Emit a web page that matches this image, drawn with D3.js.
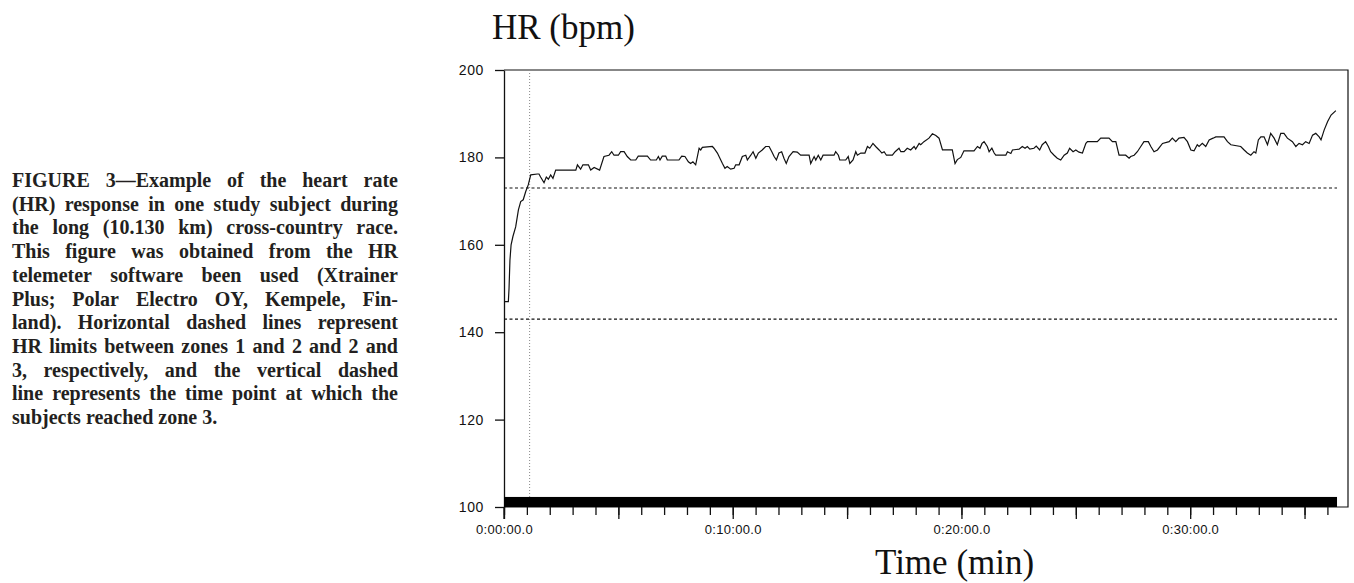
<!DOCTYPE html>
<html>
<head>
<meta charset="utf-8">
<script src="https://cdn.jsdelivr.net/npm/d3@7"></script>
<style>
  body { margin: 0; background: #fff; }
  svg { display: block; }
  .caption { font-family: "Liberation Serif", "Times New Roman", serif; font-weight: bold; font-size: 20px; fill: #231f20; }
  .axis-title { font-family: "Liberation Serif", "Times New Roman", serif; font-size: 35px; fill: #111; }
  .tick text { font-family: "Liberation Sans", Arial, sans-serif; fill: #111; }
</style>
</head>
<body>
<script>
// heart rate trace, time in minutes / bpm
var timeMin = [0.00,0.19,0.22,0.26,0.31,0.39,0.51,0.63,0.73,0.84,0.95,1.06,1.17,1.46,1.53,1.60,1.75,1.85,1.94,2.04,2.14,2.26,
  3.14,3.21,3.35,3.45,3.69,3.79,3.94,4.18,4.37,4.59,4.71,4.81,5.00,5.10,5.25,5.39,5.54,5.76,5.87,6.27,6.41,6.66,6.75,6.82,6.92,
  7.07,7.14,7.65,7.77,7.91,8.06,8.16,8.26,8.38,8.53,8.60,8.67,9.11,9.18,9.33,9.55,9.66,9.76,9.91,10.06,10.13,10.28,10.42,10.57,
  10.64,10.79,10.89,11.01,11.12,11.29,11.44,11.59,11.71,11.81,11.91,12.02,12.14,12.24,12.34,12.46,12.64,12.82,12.97,13.34,13.41,
  13.56,13.63,13.74,13.85,13.95,14.43,14.50,14.62,14.68,14.94,15.05,15.12,15.26,15.38,15.45,15.60,15.78,15.89,15.99,16.13,16.25,
  16.40,16.52,16.62,16.72,16.98,17.10,17.27,17.35,17.49,17.63,17.78,17.93,18.00,18.15,18.22,18.36,18.58,18.73,18.88,19.02,19.17,
  19.60,19.72,19.82,19.97,20.11,20.55,20.70,20.81,20.90,20.99,21.13,21.21,21.33,21.43,21.50,21.94,22.01,22.16,22.23,22.52,22.66,
  22.78,22.88,22.99,23.17,23.27,23.42,23.53,23.68,23.80,23.90,24.05,24.19,24.34,24.49,24.63,24.73,24.88,25.00,25.14,25.29,25.44,
  25.51,25.94,26.09,26.45,26.60,26.75,26.89,27.18,27.33,27.40,27.55,27.69,27.84,27.98,28.17,28.28,28.42,28.57,28.79,29.08,29.22,
  29.37,29.51,29.73,29.88,30.03,30.17,30.31,30.39,30.53,30.68,30.83,31.00,31.12,31.48,31.63,31.78,32.21,32.36,32.50,32.65,32.79,
  32.87,32.98,33.09,33.23,33.38,33.52,33.67,33.81,33.96,34.10,34.25,34.47,34.62,34.76,34.91,35.05,35.20,35.35,35.49,35.64,35.72,
  35.86,36.01,36.16,36.37];
var hrBpm = [147,147,150,156.5,160,161.9,164.1,168,169.9,170.3,172.2,173.7,176,176.2,176.2,175.5,174.2,175.5,175,176,175.2,177.1,
  177.1,178.3,177.3,178.3,178.3,177.1,177.7,177.1,180.2,180.5,181.3,180.5,180.5,181.3,181.3,180.2,179.4,179.4,180.3,180.3,179.4,
  179.4,180.2,179.4,180.3,180.3,179.4,179.4,180.3,180.2,179,178.6,179,178.3,182.1,181.7,182.3,182.5,182.1,181,178.6,177.5,177.9,
  177.3,177.5,178.3,178.3,180.2,180.5,179.4,180.5,181.3,179.8,181,181.7,182.5,182.5,181.3,180.2,179.4,181,181.3,179.8,178.6,180.2,
  181.3,181.2,180.5,180.5,178.6,180.2,179.4,180.5,179.4,180.5,180.5,181.3,180.5,179.4,179.4,180.2,178.6,179.4,181.3,180.5,181,181,
  182.5,182.1,183.2,182.5,181.7,181,181.3,180.5,180.5,181.3,182.1,181.3,181.3,182.1,181.7,182.5,181.9,183.2,182.9,183.6,184.4,185.4,
  185,184.4,181.7,181.7,178.6,179.5,180,181.5,181.5,182.5,182.1,183.2,183.6,182.5,181.3,182.1,181,180.5,180.5,181.3,180.9,181.7,
  181.9,182.5,182.1,182.5,181.9,182.1,182.6,181.7,182.9,183.6,182.5,181.3,180.5,179.8,179.4,180.5,181,182.1,181.3,181.7,181.2,181,
  183.2,183.6,183.6,184.4,184.4,183.6,183.6,180.5,180.5,179.8,180.2,180.5,181.3,182.5,183.6,183.6,182.5,181.3,181.7,183.2,183.6,
  184.4,183.6,184.4,184.6,183.6,181.7,181.5,182.9,182.5,183.2,182.5,184,184.4,184.7,184.7,183.6,182.9,182.5,181.7,181,180.5,181.3,
  181,184,184.7,184.7,182.9,185.5,184.4,182.9,185.5,185.5,184.4,183.6,182.5,183.2,182.9,183.6,183.2,185.1,185.5,184.7,184,186.3,
  188.2,189.7,190.7];

var zoneLimits = [143, 173];      // bpm, zone 1/2 and 2/3
var zone3Time = [1.12];           // min, time zone 3 was reached
var recordEnd = [36.42];          // min, end of recording
var markerBar = [100, 102.3];     // bpm band of the solid bar along the bottom

var yTicks = [100, 120, 140, 160, 180, 200];
var xMajor = [0, 5, 10, 15, 20, 25, 30, 35];
var xLabelled = [0, 10, 20, 30];
var xLabels = ["0:00:00.0", "0:10:00.0", "0:20:00.0", "0:30:00.0"];

var captionLines = [
  "FIGURE 3\u2014Example of the heart rate",
  "(HR) response in one study subject during",
  "the long (10.130 km) cross-country race.",
  "This figure was obtained from the HR",
  "telemeter software been used (Xtrainer",
  "Plus; Polar Electro OY, Kempele, Fin-",
  "land). Horizontal dashed lines represent",
  "HR limits between zones 1 and 2 and 2 and",
  "3, respectively, and the vertical dashed",
  "line represents the time point at which the",
  "subjects reached zone 3."
];

var W = 1354, H = 583;
var svg = d3.select("body").append("svg").attr("width", W).attr("height", H);

// ---- caption, justified by hand ----
var capLeft = 12, capRight = 398, capTop = 187, capStep = 23.7;
var cap = svg.append("g").attr("class", "caption");
captionLines.forEach(function(line, i) {
  var words = line.split(" ");
  var t = cap.append("text").attr("y", capTop + i * capStep);
  var spans = words.map(function(w) { return t.append("tspan").text(w); });
  var widths = spans.map(function(s) { return s.node().getComputedTextLength(); });
  var last = i === captionLines.length - 1;
  var gap = last ? 5 : (capRight - capLeft - d3.sum(widths)) / (words.length - 1);
  var xx = capLeft;
  spans.forEach(function(s, j) { s.attr("x", xx); xx += widths[j] + gap; });
});

// ---- chart ----
var x = d3.scaleLinear().domain([0, 36.9]).range([504, 1348]);
var y = d3.scaleLinear().domain([100, 200]).range([507, 70]);

// frame
svg.append("path")
  .attr("d", "M" + x(0) + "," + y(200) + "H" + x(36.9) + "V" + y(100) + "H" + x(0))
  .attr("fill", "none").attr("stroke", "#111").attr("stroke-width", 1.2);

// y axis
var yAxis = svg.append("g")
  .attr("transform", "translate(" + x(0) + ",0)")
  .call(d3.axisLeft(y).tickValues(yTicks).tickSize(9).tickPadding(11).tickSizeOuter(0));
yAxis.selectAll("text").style("font-size", "14px").style("letter-spacing", "0.6px");
yAxis.selectAll("line, path").attr("stroke", "#111").attr("stroke-width", 1.3);
svg.append("line").attr("x1", x(0)).attr("x2", x(0)).attr("y1", y(100)).attr("y2", y(100) + 12)
  .attr("stroke", "#111").attr("stroke-width", 1.3);

// x axis: minute ticks + 5 min ticks
var xMinor = svg.append("g")
  .attr("transform", "translate(0," + y(100) + ")")
  .call(d3.axisBottom(x).tickValues(d3.range(0, 37)).tickSize(8).tickFormat("").tickSizeOuter(0));
xMinor.select(".domain").remove();
var xAxis = svg.append("g")
  .attr("transform", "translate(0," + y(100) + ")")
  .call(d3.axisBottom(x).tickValues(xMajor).tickSize(12).tickPadding(6).tickSizeOuter(0)
    .tickFormat(function(d) { var k = xLabelled.indexOf(d); return k < 0 ? "" : xLabels[k]; }));
xAxis.select(".domain").remove();
svg.selectAll(".tick line").attr("stroke", "#111").attr("stroke-width", 1.3);
xAxis.selectAll("text").style("font-size", "13px").style("letter-spacing", "0.3px");

// solid bar along the bottom
svg.append("rect")
  .attr("x", x(0)).attr("width", x(recordEnd[0]) - x(0))
  .attr("y", y(markerBar[1])).attr("height", y(markerBar[0]) - y(markerBar[1]))
  .attr("fill", "#000");

// zone limits
svg.selectAll(".zone")
  .data(zoneLimits).enter().append("line")
  .attr("class", "zone")
  .attr("x1", x(0)).attr("x2", x(recordEnd[0]))
  .attr("y1", function(d) { return y(d); }).attr("y2", function(d) { return y(d); })
  .attr("stroke", "#111").attr("stroke-width", 1.2).attr("stroke-dasharray", "3,2.5");

// time zone 3 reached
svg.selectAll(".z3")
  .data(zone3Time).enter().append("line")
  .attr("class", "z3")
  .attr("x1", function(d) { return x(d); }).attr("x2", function(d) { return x(d); })
  .attr("y1", y(200)).attr("y2", y(markerBar[1]))
  .attr("stroke", "#888").attr("stroke-width", 1).attr("stroke-dasharray", "1,2");

// HR trace
var pts = timeMin.map(function(t, i) { return [t, hrBpm[i]]; });
svg.append("path")
  .datum(pts)
  .attr("fill", "none").attr("stroke", "#111").attr("stroke-width", 1.2)
  .attr("d", d3.line().x(function(d) { return x(d[0]); }).y(function(d) { return y(d[1]); }));

// axis titles
svg.append("text").attr("class", "axis-title").attr("x", 492).attr("y", 39).text("HR (bpm)");
svg.append("text").attr("class", "axis-title").attr("x", 875).attr("y", 574).text("Time (min)");
</script>
</body>
</html>
